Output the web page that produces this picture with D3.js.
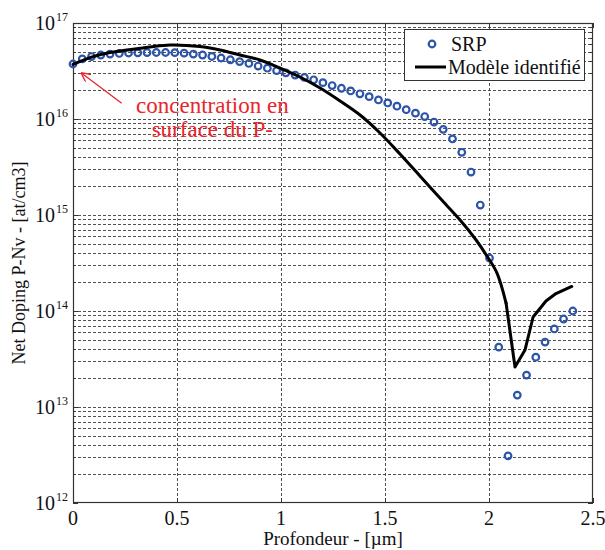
<!DOCTYPE html>
<html><head><meta charset="utf-8">
<script src="https://cdn.jsdelivr.net/npm/d3@7"></script>
<style>body{margin:0;background:#fff}svg{display:block}text{font-family:"Liberation Serif","Times New Roman",serif}</style>
</head><body><svg id="c" width="605" height="550"></svg>
<script>
// SRP measured points
const srpStep = 0.0445;
const srpValues = [3.74e16,4.22e16,4.47e16,4.64e16,4.75e16,4.82e16,4.87e16,4.89e16,4.92e16,4.93e16,
  4.93e16,4.91e16,4.85e16,4.75e16,4.64e16,4.48e16,4.32e16,4.14e16,3.96e16,3.79e16,
  3.56e16,3.38e16,3.19e16,3.03e16,2.87e16,2.71e16,2.56e16,2.39e16,2.23e16,2.09e16,
  1.96e16,1.83e16,1.71e16,1.58e16,1.47e16,1.36e16,1.25e16,1.15e16,1.06e16,9.3e15,
  7.8e15,6.2e15,4.5e15,2.8e15,1.27e15,3.56e14,4.2e13,3.1e12,1.33e13,2.15e13,
  3.3e13,4.75e13,6.5e13,8.25e13,1.0e14];
const srpDepth = srpValues.map((v,i)=>+(i*srpStep).toFixed(4));
// Identified model
const modelDepth = [0,0.096,0.178,0.26,0.37,0.466,0.61,0.707,0.803,0.899,0.962,1.091,1.188,1.284,1.38,1.476,1.572,1.668,1.764,1.861,1.938,1.99,2.038,2.082,2.125,2.173,2.212,2.274,2.322,2.398];
const modelValues = [3.70e16,4.46e16,4.93e16,5.23e16,5.62e16,5.90e16,5.69e16,5.23e16,4.64e16,4.12e16,3.65e16,2.74e16,2.10e16,1.54e16,1.10e16,7.15e15,4.32e15,2.55e15,1.50e15,8.87e14,5.49e14,3.74e14,2.49e14,1.21e14,2.61e13,3.92e13,8.66e13,1.27e14,1.52e14,1.80e14];
const xTicks = [0,0.5,1,1.5,2,2.5];
const xTickLabels = ["0","0.5","1","1.5","2","2.5"];
const yDecades = [12,13,14,15,16,17];
const legendLabels = ["SRP","Modèle identifié"];
const annotationLines = ["concentration en","surface du P-"];
const xLabel = "Profondeur - [\u00b5m]";
const yLabel = "Net Doping P-Nv - [at/cm3]";

const svg = d3.select("#c");
const L=73,R=593,T=23,B=503;
const x = d3.scaleLinear().domain([0,2.5]).range([L,R]);
const y = d3.scaleLog().domain([1e12,1e17]).range([B,T]);
const blue="#2c54a8", red="#e8262b";

// grid
const hVals=[];
yDecades.forEach(d=>{ for(let m=1;m<=9;m++){ const v=m*Math.pow(10,d); if(v>1e12&&v<1e17) hVals.push(v);} });
const g=svg.append("g");
g.selectAll("line.h").data(hVals).join("line").attr("x1",L).attr("x2",R)
 .attr("y1",d=>Math.round(y(d))+0.5).attr("y2",d=>Math.round(y(d))+0.5)
 .attr("stroke","#333").attr("stroke-width",1).attr("stroke-dasharray","3,2").attr("opacity",0.85);
g.selectAll("line.v").data(xTicks.slice(1,-1)).join("line").attr("y1",T).attr("y2",B)
 .attr("x1",d=>Math.round(x(d))+0.5).attr("x2",d=>Math.round(x(d))+0.5)
 .attr("stroke","#333").attr("stroke-width",1).attr("stroke-dasharray","3,2").attr("opacity",0.85);

// ticks inward
const tk=svg.append("g").attr("stroke","#333");
xTicks.forEach(t=>{const X=Math.round(x(t))+0.5;
 tk.append("line").attr("x1",X).attr("x2",X).attr("y1",B).attr("y2",B-5);
 tk.append("line").attr("x1",X).attr("x2",X).attr("y1",T).attr("y2",T+5);});
hVals.concat([1e12,1e17]).forEach(v=>{const Y=Math.round(y(v))+0.5; const major=Math.abs(Math.log10(v)%1)<1e-9; const len=major?5:3;
 tk.append("line").attr("x1",L).attr("x2",L+len).attr("y1",Y).attr("y2",Y);
 tk.append("line").attr("x1",R).attr("x2",R-len).attr("y1",Y).attr("y2",Y);});

// frame
svg.append("rect").attr("x",L+0.5).attr("y",T+0.5).attr("width",R-L-1).attr("height",B-T-1)
 .attr("fill","none").attr("stroke","#333").attr("stroke-width",1.2);

// SRP markers
svg.append("g").selectAll("circle").data(srpDepth).join("circle")
 .attr("cx",(d)=>x(d)).attr("cy",(d,i)=>y(srpValues[i])).attr("r",3.3)
 .attr("fill","none").attr("stroke",blue).attr("stroke-width",2.2);

// model line: smooth decay, then sharp V near the junction
const modelPts = modelDepth.map((d,i)=>[d,modelValues[i]]);
const split = modelDepth.indexOf(2.082);
const lineSmooth = d3.line().x(d=>x(d[0])).y(d=>y(d[1])).curve(d3.curveCatmullRom.alpha(0.5));
const lineSharp = d3.line().x(d=>x(d[0])).y(d=>y(d[1]));
[[modelPts.slice(0,split+1),lineSmooth],[modelPts.slice(split),lineSharp]].forEach(([pts,gen])=>
 svg.append("path").datum(pts).attr("d",gen)
 .attr("fill","none").attr("stroke","#000").attr("stroke-width",3).attr("stroke-linejoin","round").attr("stroke-linecap","round"));

// axis labels
const xl=svg.append("g").attr("font-size",20).attr("fill","#111").attr("text-anchor","middle");
xTicks.forEach((t,i)=>xl.append("text").attr("x",x(t)).attr("y",B+22).text(xTickLabels[i]));
const yl=svg.append("g").attr("fill","#111");
yDecades.forEach(d=>{const Y=y(Math.pow(10,d));
 yl.append("text").attr("x",L-18).attr("y",Y+7).attr("font-size",20).attr("text-anchor","end").text("10");
 yl.append("text").attr("x",L-17).attr("y",Y-2).attr("font-size",12).attr("text-anchor","start").text(String(d));});
svg.append("text").attr("x",(L+R)/2).attr("y",545).attr("text-anchor","middle").attr("font-size",19).attr("fill","#111").text(xLabel);
svg.append("text").attr("transform",`translate(25,${(T+B)/2}) rotate(-90)`).attr("text-anchor","middle").attr("font-size",18).attr("fill","#111").text(yLabel);

// annotation
const ax0=x(0.234), ay0=y(1.46e16), ax1=x(0.042), ay1=y(3.0e16);
svg.append("defs").append("marker").attr("id","ah").attr("viewBox","0 0 10 10").attr("refX",9).attr("refY",5)
 .attr("markerWidth",7).attr("markerHeight",7).attr("orient","auto")
 .append("path").attr("d","M0,0 L10,5 L0,10").attr("fill","none").attr("stroke",red).attr("stroke-width",1.5);
svg.append("line").attr("x1",ax0).attr("y1",ay0).attr("x2",ax1).attr("y2",ay1).attr("stroke",red).attr("stroke-width",1.3).attr("marker-end","url(#ah)");
annotationLines.forEach((s,i)=>svg.append("text").attr("x",x(0.67)).attr("y",y(1.155e16)+i*24).attr("text-anchor","middle")
 .attr("font-size",23).attr("fill",red).text(s));

// legend
const lg=svg.append("g");
lg.append("rect").attr("x",404.5).attr("y",29.5).attr("width",180).attr("height",51).attr("fill","#fff").attr("stroke","#333");
lg.append("circle").attr("cx",432).attr("cy",44).attr("r",3.3).attr("fill","none").attr("stroke",blue).attr("stroke-width",2.2);
lg.append("text").attr("x",451).attr("y",51).attr("font-size",20).attr("fill","#111").text(legendLabels[0]);
lg.append("line").attr("x1",415).attr("x2",446).attr("y1",67).attr("y2",67).attr("stroke","#000").attr("stroke-width",3);
lg.append("text").attr("x",448).attr("y",74).attr("font-size",20).attr("fill","#111").text(legendLabels[1]);
</script></body></html>
